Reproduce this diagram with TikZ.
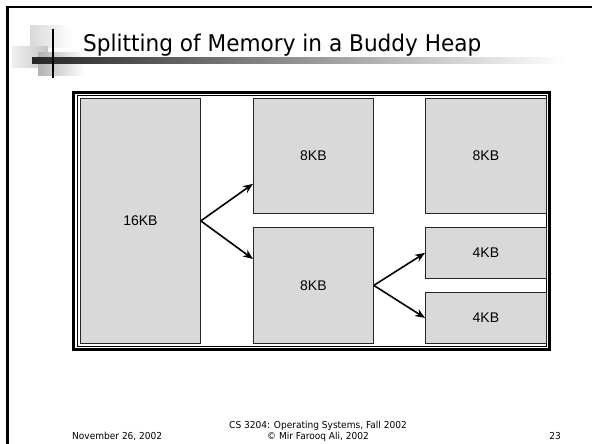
\documentclass[tikz,border=0pt]{standalone}
\usepackage{fontspec}
\setmainfont{Liberation Sans}
\newfontfamily\slidefont[FakeStretch=0.94]{DejaVu Sans}
\usepackage{tikz}
\usetikzlibrary{
  arrows.meta,
  positioning,
  calc
}
\definecolor{blockgray}{RGB}{217,217,217}
\tikzset{
  memblock/.style={
    draw=black!85,
    fill=blockgray,
    line width=0.8pt,
    inner sep=0pt,
    anchor=north west,
    font=\fontsize{14}{16}\selectfont
  },
  splitarrow/.style={-{Stealth[length=10pt,width=8pt]},line width=1.6pt},
  slideline/.style={draw=black,line width=2.5pt},
  footer/.style={font=\slidefont\fontsize{9.6}{11}\selectfont,inner sep=0pt},
}

\begin{document}
\begin{tikzpicture}[x=1pt,y=-1pt]
  \path[fill=white] (0,0) rectangle (592,444);
  \useasboundingbox (0,0) rectangle (592,444);

  % slide frame and title decoration
  \draw[slideline] (7.5,444) -- (7.5,7) -- (592,7);
  \shade[left color=gray!30,right color=white] (30,26) rectangle (72,48);
  \shade[left color=gray!12,right color=gray!45] (12,47) rectangle (48,68);
  \shade[left color=gray!60,right color=white] (38,53) rectangle (85,76);
  \shade[left color=black!85,middle color=black!45,right color=white] (32,58) rectangle (565,64);
  \draw[line width=1.5pt] (53,29) -- (53,78);
  \node[anchor=base west,inner sep=0pt,font=\slidefont\fontsize{23}{28}\selectfont] (title) at (83,52)
    {Splitting of Memory in a Buddy Heap};

  % memory blocks
  \draw[line width=2.2pt] (73.5,92.5) rectangle (549.5,349.5);
  \draw[line width=0.8pt] (77,95.5) rectangle (546.5,346.5);
  \node[memblock,minimum width=120pt,minimum height=245pt] (blk16) at (80,98) {16KB};
  \node[memblock,minimum width=120pt,minimum height=115pt] (blk8a) at (253,98) {8KB};
  \node[memblock,minimum width=120pt,minimum height=116pt] (blk8b) at (253,227) {8KB};
  \node[memblock,minimum width=121pt,minimum height=115pt] (blk8c) at (425,98) {8KB};
  \node[memblock,minimum width=121pt,minimum height=51pt] (blk4a) at (425,227) {4KB};
  \node[memblock,minimum width=121pt,minimum height=51pt] (blk4b) at (425,292) {4KB};

  \draw[splitarrow] (blk16.east) -- ([yshift=30pt]blk8a.south west);
  \draw[splitarrow] (blk16.east) -- ([yshift=-32pt]blk8b.north west);
  \draw[splitarrow] (blk8b.east) -- (blk4a.west);
  \draw[splitarrow] (blk8b.east) -- (blk4b.west);

  % footer
  \node[footer,anchor=base west] (date) at (72,439.5) {November 26, 2002};
  \node[footer,anchor=base] (course) at (318,428) {CS 3204: Operating Systems, Fall 2002};
  \node[footer,anchor=base] (author) at (318,439.5) {© Mir Farooq Ali, 2002};
  \node[footer,anchor=base east] (page) at (561,439.5) {23};
\end{tikzpicture}
\end{document}
